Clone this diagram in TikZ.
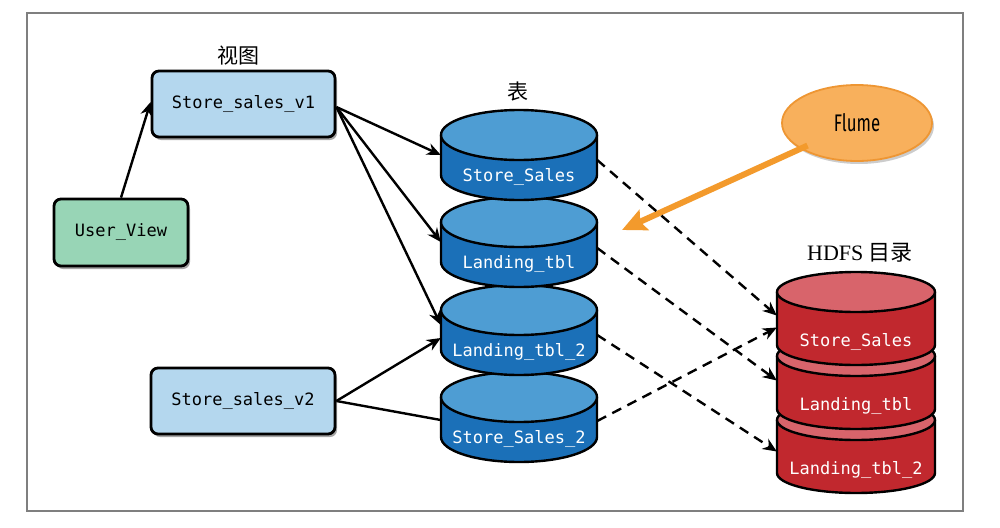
\documentclass[tikz,border=0pt]{standalone}
\usepackage{fontspec}
\setmainfont{Liberation Serif}
\newfontfamily\monof{DejaVu Sans Mono}
\newfontfamily\cjk{Noto Sans CJK SC}
\newfontfamily\flumef{Fira Sans}
\usetikzlibrary{shadows,arrows.meta,shapes.geometric}
\definecolor{boxblue}{HTML}{B4D7EE}
\definecolor{boxgreen}{HTML}{98D5B6}
\definecolor{bluedark}{HTML}{1B70B8}
\definecolor{bluelight}{HTML}{4E9DD3}
\definecolor{reddark}{HTML}{C1282E}
\definecolor{redlight}{HTML}{D8646B}
\definecolor{flumefill}{HTML}{F8B05C}
\definecolor{flumeborder}{HTML}{EE9633}
\definecolor{orangearr}{HTML}{F39A2C}
\definecolor{framegray}{HTML}{7F7F7F}
\tikzset{
  viewbox/.style={draw=black, line width=2.8pt, rounded corners=7pt, inner sep=0pt,
    font=\monof\fontsize{17}{19}\selectfont,
    drop shadow={shadow xshift=2pt, shadow yshift=-3pt, opacity=0.35, fill=black}},
  cylline/.style={draw=black, line width=2.4pt},
  cylnode/.style={draw=none, inner sep=0pt, rectangle},
  cyltext/.style={text=white, font=\monof\fontsize{17}{19}\selectfont, inner sep=0pt},
  conn/.style={line width=2.4pt, -{Stealth[length=14pt,width=12pt]}},
  plainline/.style={line width=2.4pt},
  dconn/.style={line width=2.4pt, dash pattern=on 10pt off 7pt, -{Stealth[length=14pt,width=12pt]}},
  cjklabel/.style={font=\cjk\fontsize{21}{24}\selectfont, inner sep=0pt},
}
% #1 name, #2 cx, #3 top y, #4 rx, #5 ry, #6 height, #7 dark, #8 light, #9 text
\newcommand\dbcyl[9]{%
  \fill[#7] (#2-#4,#3+#5) rectangle (#2+#4,#3+#6-#5);
  \fill[#7] (#2,#3+#6-#5) ellipse[x radius=#4pt, y radius=#5pt];
  \draw[cylline] (#2-#4,#3+#5) -- (#2-#4,#3+#6-#5)
     arc[start angle=180, end angle=360, x radius=#4pt, y radius=#5pt] -- (#2+#4,#3+#5);
  \filldraw[cylline, fill=#8] (#2,#3+#5) ellipse[x radius=#4pt, y radius=#5pt];
  \node[cylnode, minimum width=#4*2pt, minimum height=#6pt] (#1) at (#2,#3+#6/2) {};
  \node[cyltext] (#1-t) at (#2,#3+#6-23) {#9};
}
\begin{document}
\begin{tikzpicture}[x=1pt,y=-1pt]
\useasboundingbox (0,0) rectangle (1000,527);
\fill[white] (0,0) rectangle (1000,527);
\draw[framegray, line width=1.5pt] (27,13) rectangle (963,511);

% labels
\node[cjklabel] (lview) at (238,56) {视图};
\node[cjklabel] (ltable) at (518,92) {表};
\node[inner sep=0pt, font=\fontsize{22}{24}\selectfont] (lhdfs) at (860,253) {HDFS {\cjk 目录}};

% view boxes
\node[viewbox, fill=boxblue, minimum width=183pt, minimum height=66pt] (v1) at (243.5,104) {Store\_sales\_v1};
\node[viewbox, fill=boxblue, minimum width=184pt, minimum height=66pt] (v2) at (243,401) {Store\_sales\_v2};
\node[viewbox, fill=boxgreen, minimum width=134pt, minimum height=67pt] (uv) at (121,232.5) {User\_View};

% blue table cylinders (bottom first)
\dbcyl{b4}{519}{372}{78}{25}{90}{bluedark}{bluelight}{Store\_Sales\_2}
\dbcyl{b3}{519}{285}{78}{25}{90}{bluedark}{bluelight}{Landing\_tbl\_2}
\dbcyl{b2}{519}{197}{78}{25}{90}{bluedark}{bluelight}{Landing\_tbl}
\dbcyl{b1}{519}{110}{78}{25}{90}{bluedark}{bluelight}{Store\_Sales}

% red HDFS cylinders (bottom first)
\dbcyl{r3}{856}{400}{79}{20}{93}{reddark}{redlight}{Landing\_tbl\_2}
\dbcyl{r2}{856}{336}{79}{20}{93}{reddark}{redlight}{Landing\_tbl}
\dbcyl{r1}{856}{272}{79}{20}{93}{reddark}{redlight}{Store\_Sales}

% Flume
\node[ellipse, fill=flumefill, draw=flumeborder, line width=1.8pt,
      minimum width=150pt, minimum height=76pt, inner sep=0pt,
      drop shadow={shadow xshift=2pt, shadow yshift=-3pt, opacity=0.2, fill=black},
      font=\flumef\fontsize{24}{26}\selectfont] (flume) at (857,123) {\scalebox{0.7}[1]{Flume}};
\coordinate (ftip) at (622,230);
\draw[orangearr, line width=6pt, shorten <=-8pt, -{Stealth[length=24pt,width=22pt,inset=4pt]}] (flume) -- (ftip);

% solid connectors
\draw[conn] (uv.north) -- ([yshift=2pt]v1.west);
\draw[conn] ([yshift=-3pt]v1.east) -- (b1.west);
\draw[conn] ([yshift=-3pt]v1.east) -- (b2.west);
\draw[conn] ([yshift=-3pt]v1.east) -- ([yshift=5pt]b3.west);
\draw[conn] (v2.east) -- ([yshift=-8pt]b3.west);
\draw[plainline] (v2.east) -- ([yshift=-3pt]b4.west);

% dashed connectors
\draw[dconn] ([yshift=-5pt]b1.east) -- ([yshift=3pt]r1.west);
\draw[dconn] ([yshift=-6pt]b2.east) -- ([yshift=2pt]r2.west);
\draw[dconn] ([yshift=-5pt]b3.east) -- ([yshift=-5pt]r3.west);
\draw[dconn] ([yshift=-4pt]b4.east) -- ([yshift=-9pt]r1.west);
\end{tikzpicture}
\end{document}
